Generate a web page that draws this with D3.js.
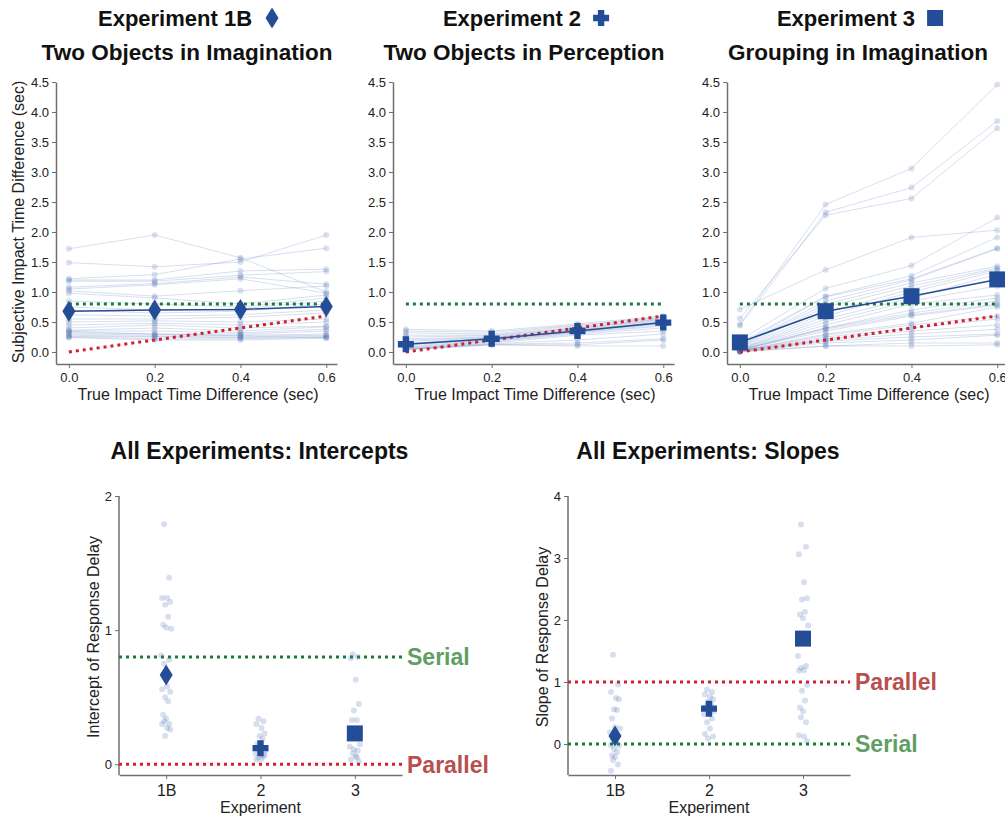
<!DOCTYPE html>
<html><head><meta charset="utf-8">
<script src="https://cdn.jsdelivr.net/npm/d3@7"></script>
<style>body{margin:0;background:#fff} text{font-family:"Liberation Sans",Arial,sans-serif}</style>
</head><body><svg id="c" width="1005" height="818"></svg>
<script>
// ---------- data ----------
const trueDiffs = [0, 0.2, 0.4, 0.6];
const topYTicks = [0, 0.5, 1, 1.5, 2, 2.5, 3, 3.5, 4, 4.5];

const exp1B = [
  [1.72,1.95,1.57,1.00],[1.49,1.42,1.50,1.95],[1.22,1.29,1.55,1.73],[1.20,1.20,1.35,1.38],
  [1.18,1.18,1.28,1.34],[1.08,1.14,1.25,1.13],[1.05,1.12,1.22,0.98],[1.02,0.93,1.02,1.10],
  [0.98,0.90,0.80,0.95],[0.85,0.80,0.75,0.90],[0.75,0.70,0.72,0.85],[0.70,0.65,0.68,0.80],
  [0.62,0.60,0.62,0.70],[0.55,0.55,0.58,0.65],[0.50,0.52,0.50,0.55],[0.45,0.48,0.45,0.50],
  [0.40,0.45,0.40,0.43],[0.36,0.40,0.35,0.42],[0.35,0.35,0.32,0.38],[0.34,0.30,0.30,0.35],
  [0.32,0.30,0.27,0.26],[0.30,0.28,0.28,0.30],[0.28,0.26,0.24,0.24],[0.26,0.25,0.25,0.28],
  [0.25,0.22,0.22,0.25],[0.24,0.20,0.20,0.23]
];
const exp2 = [
  [0.38,0.35,0.47,0.60],[0.35,0.33,0.45,0.58],[0.32,0.30,0.44,0.57],[0.28,0.28,0.42,0.55],
  [0.25,0.27,0.40,0.55],[0.22,0.25,0.40,0.53],[0.20,0.24,0.38,0.52],[0.18,0.23,0.37,0.50],
  [0.15,0.22,0.36,0.50],[0.13,0.21,0.35,0.48],[0.12,0.20,0.34,0.47],[0.10,0.19,0.33,0.45],
  [0.08,0.18,0.32,0.43],[0.07,0.17,0.30,0.40],[0.06,0.15,0.28,0.35],[0.05,0.14,0.20,0.30],
  [0.05,0.13,0.15,0.22],[0.04,0.12,0.12,0.20],[0.04,0.12,0.10,0.10]
];
const exp3 = [
  [0.46,2.46,3.06,4.46],[0.44,2.33,2.74,3.85],[0.56,2.28,2.56,3.73],[0.71,1.37,1.91,2.03],
  [0.20,1.06,1.44,2.24],[0.15,0.93,1.27,1.91],[0.12,0.92,1.22,1.73],[0.10,0.85,1.20,1.72],
  [0.10,0.80,1.15,1.43],[0.08,0.75,1.10,1.40],[0.08,0.65,1.05,1.38],[0.06,0.60,1.00,1.35],
  [0.05,0.55,0.90,1.30],[0.05,0.50,0.85,1.10],[0.04,0.45,0.80,0.95],[0.04,0.40,0.70,0.90],
  [0.03,0.40,0.65,0.85],[0.03,0.38,0.62,0.80],[0.03,0.35,0.60,0.78],[0.02,0.30,0.48,0.75],
  [0.02,0.28,0.45,0.60],[0.02,0.25,0.40,0.55],[0.02,0.22,0.35,0.45],[0.01,0.20,0.30,0.38],
  [0.01,0.18,0.25,0.30],[0.01,0.15,0.20,0.28],[0.01,0.10,0.15,0.15],[0.00,0.10,0.10,0.12]
];
const means1B = [0.68, 0.70, 0.71, 0.76];
const means2  = [0.13, 0.22, 0.35, 0.49];
const means3  = [0.16, 0.68, 0.93, 1.21];

const experiments = ["1B", "2", "3"];
const intercepts1B = [1.79,1.39,1.24,1.24,1.21,1.19,1.10,1.04,1.02,1.01,0.81,0.78,0.75,0.58,0.56,0.54,0.50,0.47,0.37,0.34,0.32,0.30,0.30,0.27,0.26,0.21];
const intercepts2  = [0.34,0.32,0.30,0.27,0.23,0.21,0.19,0.15,0.13,0.10,0.08,0.06,0.05,0.04,0.035,0.07,0.09];
const intercepts3  = [0.82,0.80,0.79,0.63,0.45,0.40,0.33,0.33,0.23,0.15,0.13,0.10,0.08,0.06,0.035,0.02,0.11,0.05];
const slopes1B = [1.44,0.96,0.84,0.74,0.72,0.56,0.55,0.41,0.27,0.25,0.19,0.13,0.08,0.03,-0.02,-0.03,-0.08,-0.13,-0.18,-0.21,-0.26,-0.33,-0.43];
const slopes2  = [0.88,0.84,0.80,0.76,0.72,0.68,0.64,0.61,0.57,0.53,0.48,0.41,0.35,0.25,0.16,0.12,0.09];
const slopes3  = [3.54,3.18,3.06,2.61,2.35,2.33,2.13,2.09,2.03,1.91,1.42,1.26,1.23,1.19,1.18,0.95,0.86,0.70,0.59,0.53,0.43,0.35,0.14,0.12,0.05];
const interceptMeans = [0.665, 0.12, 0.23];
const slopeMeans = [0.13, 0.57, 1.70];
const serialIntercept = 0.8, parallelIntercept = 0;
const serialSlope = 0, parallelSlope = 1;
const jitterPattern = [-2, 3, -4, 1, 4, -1, 2, -3, 0, 5, -5, 3, -2, 1, -4, 4, -1, 2, -3, 0];

// ---------- styles ----------
const DARK = "#234d97", LIGHT = "#4a6fb0";
const GREEN = "#1a7a3c", RED = "#d11f2e";
const GREEN_T = "#5f9f63", RED_T = "#b9504f";
const AXIS = "#6f6f6f", TXT = "#222";

const svg = d3.select("#c");

function markerPath(type) {
  if (type === "diamond") { const w = 6.5, h = 10.5; return `M0,${-h}L${w},0L0,${h}L${-w},0Z`; }
  if (type === "plus") { const a = 8, t = 3.2; return `M${-t},${-a}H${t}V${-t}H${a}V${t}H${t}V${a}H${-t}V${t}H${-a}V${-t}H${-t}Z`; }
  const s = 8; return `M${-s},${-s}H${s}V${s}H${-s}Z`;
}

function styleAxis(g) {
  g.select(".domain").attr("stroke", AXIS).attr("stroke-width", 1.5);
  g.selectAll(".tick line").attr("stroke", AXIS);
  g.selectAll(".tick text").attr("fill", TXT).style("font-size", "13px").style("font-family", "'Liberation Sans',Arial,sans-serif");
}

function dotted(g, x1, y1, x2, y2, color) {
  g.append("line").attr("x1", x1).attr("y1", y1).attr("x2", x2).attr("y2", y2)
    .attr("stroke", color).attr("stroke-width", 3).attr("stroke-dasharray", "3 4");
}

// ---------- top panels ----------
const topPanels = [
  {left: 56, data: exp1B, means: means1B, marker: "diamond", t1: "Experiment 1B", t2: "Two Objects in Imagination", ylab: true},
  {left: 393, data: exp2, means: means2, marker: "plus", t1: "Experiment 2", t2: "Two Objects in Perception", ylab: false},
  {left: 727, data: exp3, means: means3, marker: "square", t1: "Experiment 3", t2: "Grouping in Imagination", ylab: false}
];
topPanels.forEach(p => {
  const x = d3.scaleLinear().domain([-0.03, 0.625]).range([p.left, p.left + 281]);
  const y = d3.scaleLinear().domain([-0.2, 4.5]).range([364, 82]);
  const g = svg.append("g");
  const gx = g.append("g").attr("transform", "translate(0,364)")
    .call(d3.axisBottom(x).tickValues(trueDiffs).tickFormat(d3.format(".1f")).tickSize(4).tickSizeOuter(0));
  styleAxis(gx);
  gx.selectAll(".tick text").attr("dy", "0.85em");
  const gy = g.append("g").attr("transform", `translate(${p.left},0)`)
    .call(d3.axisLeft(y).tickValues(topYTicks).tickFormat(d3.format(".1f")).tickSize(4).tickSizeOuter(0));
  styleAxis(gy);

  const line = d3.line().x((d, i) => x(trueDiffs[i])).y(d => y(d));
  g.selectAll("path.subj").data(p.data).join("path").attr("class", "subj")
    .attr("d", line).attr("fill", "none").attr("stroke", LIGHT).attr("stroke-opacity", 0.22).attr("stroke-width", 1);
  p.data.forEach(row => {
    g.selectAll(null).data(row).join("circle")
      .attr("cx", (d, i) => x(trueDiffs[i])).attr("cy", d => y(d)).attr("r", 3)
      .attr("fill", LIGHT).attr("fill-opacity", 0.2);
  });
  dotted(g, x(0), y(serialIntercept), x(0.6), y(serialIntercept), GREEN);
  dotted(g, x(0), y(0), x(0.6), y(0.6), RED);
  g.append("path").attr("d", line(p.means)).attr("fill", "none").attr("stroke", DARK).attr("stroke-width", 1.5);
  g.selectAll("path.mk").data(p.means).join("path").attr("class", "mk")
    .attr("transform", (d, i) => `translate(${x(trueDiffs[i])},${y(d)})`)
    .attr("d", markerPath(p.marker)).attr("fill", DARK);

  const cx = p.left + 131;
  const t1 = g.append("text").attr("x", cx - 12).attr("y", 26).attr("text-anchor", "middle")
    .style("font-size", "22px").style("font-weight", "bold").attr("fill", "#111").text(p.t1);
  const w1 = t1.node().getComputedTextLength();
  g.append("path").attr("transform", `translate(${cx - 12 + w1 / 2 + 20},18)`).attr("d", markerPath(p.marker)).attr("fill", DARK);
  g.append("text").attr("x", cx).attr("y", 60).attr("text-anchor", "middle")
    .style("font-size", "22.5px").style("font-weight", "bold").attr("fill", "#111").text(p.t2);
  g.append("text").attr("x", p.left + 142).attr("y", 400).attr("text-anchor", "middle")
    .style("font-size", "16px").attr("fill", TXT).text("True Impact Time Difference (sec)");
  if (p.ylab) {
    g.append("text").attr("transform", "translate(24,222) rotate(-90)").attr("text-anchor", "middle")
      .style("font-size", "16px").attr("fill", TXT).text("Subjective Impact Time Difference (sec)");
  }
});

// ---------- bottom panels ----------
const bottomPanels = [
  {left: 119, right: 402, domain: [-0.08, 2], ticks: [0, 1, 2], pts: [intercepts1B, intercepts2, intercepts3], means: interceptMeans,
   title: "All Experiments: Intercepts", ylab: "Intercept of Response Delay",
   refs: [{v: serialIntercept, c: GREEN, tc: GREEN_T, label: "Serial"}, {v: parallelIntercept, c: RED, tc: RED_T, label: "Parallel"}]},
  {left: 568, right: 850, domain: [-0.5, 4], ticks: [0, 1, 2, 3, 4], pts: [slopes1B, slopes2, slopes3], means: slopeMeans,
   title: "All Experiments: Slopes", ylab: "Slope of Response Delay",
   refs: [{v: parallelSlope, c: RED, tc: RED_T, label: "Parallel"}, {v: serialSlope, c: GREEN, tc: GREEN_T, label: "Serial"}]}
];
const markers = ["diamond", "plus", "square"];
bottomPanels.forEach(p => {
  const x = d3.scalePoint().domain(experiments).range([p.left, p.right]).padding(0.5);
  const y = d3.scaleLinear().domain(p.domain).range([775, 496]);
  const g = svg.append("g");
  const gx = g.append("g").attr("transform", "translate(0,775)")
    .call(d3.axisBottom(x).tickSize(4).tickSizeOuter(0));
  styleAxis(gx);
  gx.selectAll(".tick text").style("font-size", "16px").attr("dy", "0.85em");
  const gy = g.append("g").attr("transform", `translate(${p.left},0)`)
    .call(d3.axisLeft(y).tickValues(p.ticks).tickFormat(d3.format("d")).tickSize(4).tickSizeOuter(0));
  styleAxis(gy);
  gy.select(".domain").attr("d", `M0,${y(p.ticks[p.ticks.length - 1])}V775`);

  p.refs.forEach(r => {
    dotted(g, p.left, y(r.v), p.right, y(r.v), r.c);
    g.append("text").attr("x", p.right + 5).attr("y", y(r.v)).attr("dy", "0.36em")
      .style("font-size", "23px").style("font-weight", "bold").attr("fill", r.tc).text(r.label);
  });
  p.pts.forEach((arr, k) => {
    g.selectAll(null).data(arr).join("circle")
      .attr("cx", (d, i) => x(experiments[k]) + jitterPattern[i % jitterPattern.length])
      .attr("cy", d => y(d)).attr("r", 3).attr("fill", LIGHT).attr("fill-opacity", 0.22);
  });
  g.selectAll("path.mk").data(p.means).join("path").attr("class", "mk")
    .attr("transform", (d, i) => `translate(${x(experiments[i])},${y(d)})`)
    .attr("d", (d, i) => markerPath(markers[i])).attr("fill", DARK);

  const mid = (p.left + p.right) / 2;
  g.append("text").attr("x", mid - 1).attr("y", 459).attr("text-anchor", "middle")
    .style("font-size", "23px").style("font-weight", "bold").attr("fill", "#111").text(p.title);
  g.append("text").attr("x", mid).attr("y", 813).attr("text-anchor", "middle")
    .style("font-size", "16px").attr("fill", TXT).text("Experiment");
  g.append("text").attr("transform", `translate(${p.left - 20},637) rotate(-90)`).attr("text-anchor", "middle")
    .style("font-size", "16px").attr("fill", TXT).text(p.ylab);
});
</script></body></html>
